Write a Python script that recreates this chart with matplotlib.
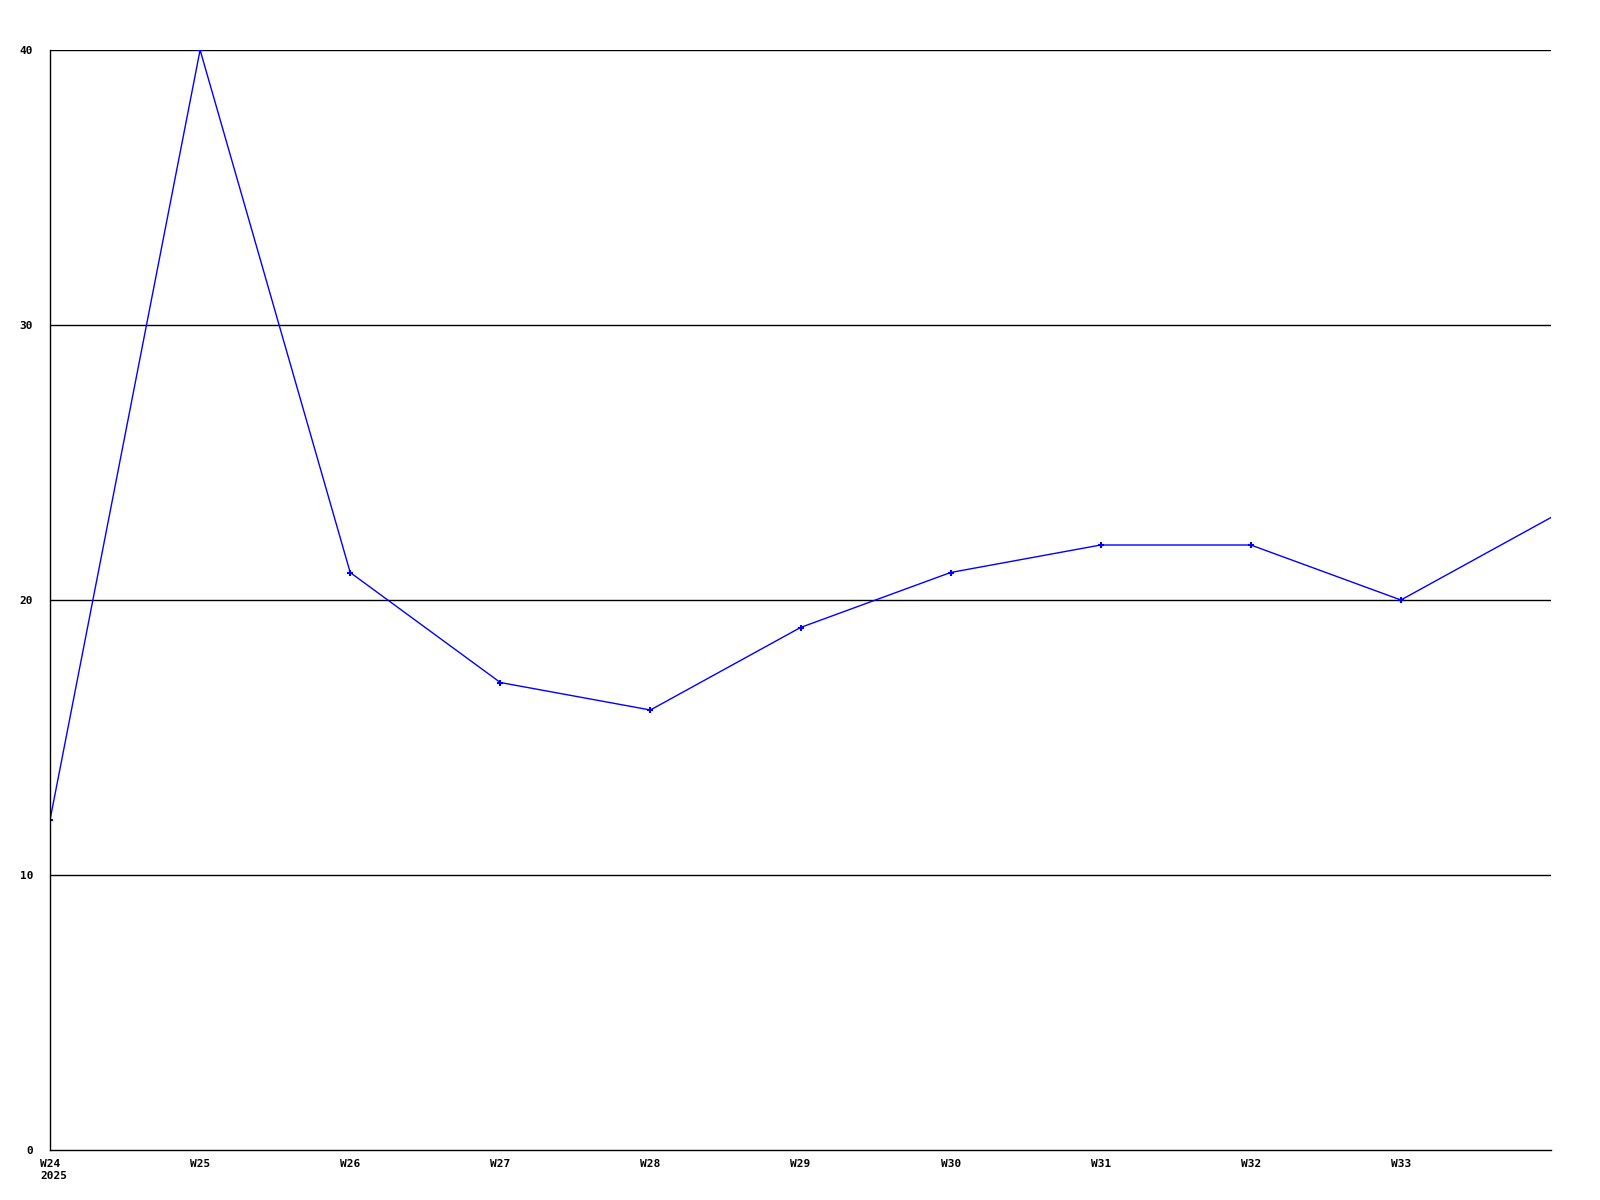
import matplotlib
matplotlib.use("Agg")
import matplotlib.pyplot as plt

weeks = ["W24", "W25", "W26", "W27", "W28", "W29", "W30", "W31", "W32", "W33", "W34"]
values = [12, 40, 21, 17, 16, 19, 21, 22, 22, 20, 23]
tick_labels = ["W24\n2025", "W25", "W26", "W27", "W28", "W29", "W30", "W31", "W32", "W33"]
y_ticks = [0, 10, 20, 30, 40]

fig = plt.figure(figsize=(16, 12), dpi=100)
ax = fig.add_axes([50 / 1600, 50 / 1200, (1551 - 50) / 1600, 1100 / 1200])

x = list(range(len(weeks)))
ax.plot(x, values, color="#0000ff", lw=1.0, marker="+", markersize=5, mew=1.5,
        markevery=list(range(len(weeks) - 1)))

ax.set_xlim(0, 10)
ax.set_ylim(0, 40)
for v in y_ticks[1:]:
    ax.axhline(v, color="black", lw=1.0, zorder=0)

ax.set_yticks(y_ticks)
ax.set_yticklabels([str(v) for v in y_ticks], fontfamily="DejaVu Sans Mono",
                   fontweight="bold", fontsize=8)
ax.set_xticks(list(range(len(tick_labels))))
ax.set_xticklabels([])
trans = ax.get_xaxis_transform()
for i, lbl in enumerate(tick_labels):
    ax.annotate(lbl, xy=(i, 0), xycoords=trans, xytext=(-7.2, -6.8),
                textcoords="offset points", ha="left", va="top",
                fontfamily="DejaVu Sans Mono", fontweight="bold", fontsize=8,
                linespacing=1.2, annotation_clip=False)

ax.tick_params(axis="both", length=0)
ax.tick_params(axis="y", pad=12.2)
for s in ["top", "right"]:
    ax.spines[s].set_visible(False)
for s in ["left", "bottom"]:
    ax.spines[s].set_color("black")
    ax.spines[s].set_linewidth(1.0)

fig.savefig("out.png", dpi=100, facecolor="white")
